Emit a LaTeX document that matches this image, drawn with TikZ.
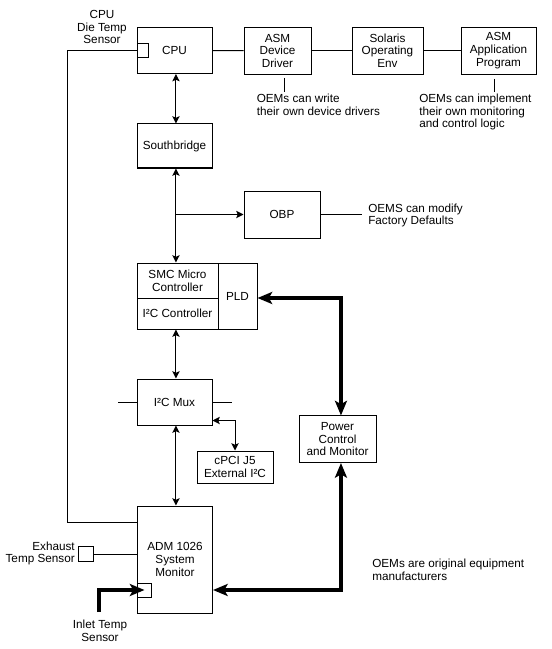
\documentclass[tikz,border=0pt]{standalone}
\usepackage{fontspec}
\setmainfont{Liberation Sans}
\usetikzlibrary{arrows.meta}
\begin{document}
\begin{tikzpicture}[x=0.75pt,y=-0.75pt,
  every node/.style={font=\fontsize{8.8}{9.5}\selectfont, inner sep=0pt},
  box/.style={draw, line width=0.75pt, align=center},
  thin/.style={line width=0.75pt},
  biarrow/.style={thin, {Stealth[length=5.5pt,width=5.5pt,inset=1.2pt]}-{Stealth[length=5.5pt,width=5.5pt,inset=1.2pt]}},
  onearrow/.style={thin, -{Stealth[length=5.5pt,width=5.5pt,inset=1.2pt]}},
  thickbi/.style={line width=3.4pt, {Stealth[length=11pt,width=9pt,inset=2.5pt]}-{Stealth[length=11pt,width=9pt,inset=2.5pt]}},
  thickone/.style={line width=3.4pt, -{Stealth[length=11pt,width=9pt,inset=2.5pt]}},
  note/.style={align=left, anchor=west}
]
\fill[white] (0,0) rectangle (551,649);
\useasboundingbox (0,0) rectangle (551,649);

% boxes
\node[box, minimum width=56.25pt, minimum height=34.5pt] (cpu) at (174.5,50.5) {CPU};
\node[box, minimum width=50.25pt, minimum height=34.9pt] (dd) at (277.5,50.75) {ASM\\Device\\Driver};
\node[box, minimum width=53.25pt, minimum height=34.9pt] (sol) at (387.5,50.75) {Solaris\\Operating\\Env};
\node[box, minimum width=56.25pt, minimum height=34.9pt] (app) at (498.5,50.75) {ASM\\Application\\Program};
\node[box, minimum width=56.25pt, minimum height=33pt] (sb) at (174.5,146) {Southbridge};
\node[box, minimum width=57pt, minimum height=35.25pt] (obp) at (282,214.5) {OBP};
\node[box, minimum width=60.75pt, minimum height=26.25pt] (smc) at (177.5,280.5) {SMC Micro\\Controller};
\node[box, minimum width=60.75pt, minimum height=23.25pt] (i2cc) at (177.5,313.5) {I²C Controller};
\node[box, minimum width=29.25pt, minimum height=49.5pt] (pld) at (237.5,296) {PLD};
\node[box, minimum width=56.25pt, minimum height=34.5pt] (mux) at (174.5,402) {I²C Mux};
\node[box, minimum width=57pt, minimum height=24pt] (cpci) at (235,467) {cPCI J5\\External I²C};
\node[box, minimum width=57.75pt, minimum height=34.9pt] (power) at (337.5,439.25) {Power\\Control\\and Monitor};
\node[box, minimum width=56.25pt, minimum height=80.25pt] (adm) at (175,559.5) {ADM 1026\\System\\Monitor};

% sensors
\node[box, minimum width=8.25pt, minimum height=10.5pt] (cpusens) at (142.5,51) {};
\node[box, minimum width=10.9pt, minimum height=10.9pt] (exh) at (86.25,554.25) {};
\node[box, minimum width=10.5pt, minimum height=10.5pt] (inlet) at (144.5,590) {};

% labels
\node[align=center] (cpulbl) at (102,27) {CPU\\Die Temp\\Sensor};
\node[align=right, anchor=east] (exhlbl) at (75,553.5) {Exhaust\\Temp Sensor};
\node[align=center] (inllbl) at (100,631) {Inlet Temp\\Sensor};
\node[note] (ddnote) at (256.5,105) {OEMs can write\\their own device drivers};
\node[note] (appnote) at (419,112) {OEMs can implement\\their own monitoring\\and control logic};
\node[note] (obpnote) at (368,215.5) {OEMS can modify\\Factory Defaults};
\node[note] (oemnote) at (372,569.5) {OEMs are original equipment\\manufacturers};

% coordinates
\coordinate (ddn1) at (284,78);
\coordinate (ddn2) at (284,92.5);
\coordinate (appn1) at (494,79);
\coordinate (appn2) at (494,92.5);
\coordinate (obpn) at (362,214.5);
\coordinate (muxl) at (118,402);
\coordinate (muxr) at (232,402);
\coordinate (bend) at (67.5,522);
\coordinate (inl) at (99,612);

% top chain
\draw[thin] (cpu.east) -- (dd.west);
\draw[thin] (dd.east) -- (sol.west);
\draw[thin] (sol.east) -- (app.west);
\draw[thin] (ddn1) -- (ddn2);
\draw[thin] (appn1) -- (appn2);

% vertical bus
\draw[biarrow] ([xshift=1.1pt]cpu.south) -- ([xshift=1.1pt]sb.north);
\draw[biarrow] ([xshift=1.1pt]sb.south) -- ([xshift=1.1pt]sb.south |- smc.north);
\coordinate (br) at ([xshift=1.1pt]sb.south |- obp.west);
\draw[onearrow] (br) -- (obp.west);
\draw[thin] (obp.east) -- (obpn);
\draw[biarrow] ([xshift=1.1pt]mux.north |- i2cc.south) -- ([xshift=1.1pt]mux.north);
\draw[thin] (muxl) -- (mux.west);
\draw[thin] (mux.east) -- (muxr);
\draw[biarrow] ([yshift=3.75pt]mux.south east) -| (cpci.north);
\draw[biarrow] ([xshift=1.1pt]mux.south) -- ([xshift=1.1pt]mux.south |- adm.north);

% thick power lines
\draw[thickbi] ([yshift=-1.5pt]pld.east) -| ([xshift=2.6pt]power.north);
\draw[thickbi] ([xshift=2.6pt]power.south) |- (adm.east |- inlet.center);
\draw[thickone] (inl) |- (inlet.center);

% sensor wires
\draw[thin] (cpusens.west) -| (bend) -- (bend -| adm.west);
\draw[thin] (exh.east) -- (exh.east -| adm.west);
\end{tikzpicture}
\end{document}
